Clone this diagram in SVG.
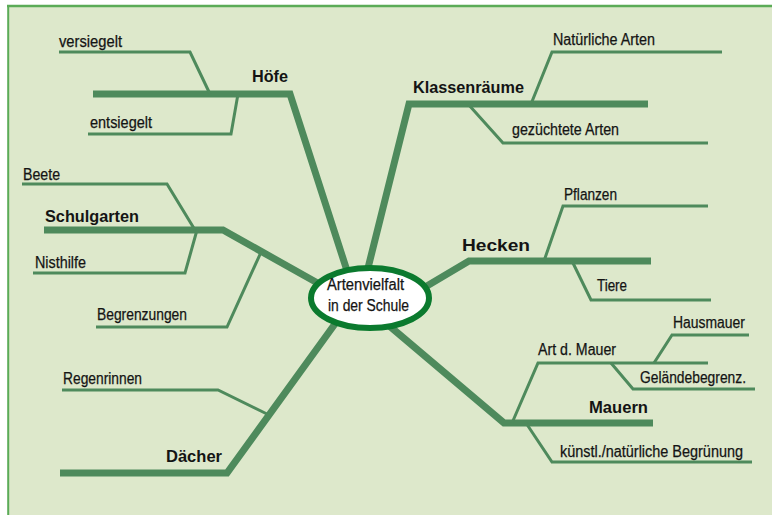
<svg xmlns="http://www.w3.org/2000/svg" width="772" height="515" viewBox="0 0 772 515">
<style>
.t{font-family:"Liberation Sans",Arial,sans-serif;font-size:16px;fill:#141414;stroke:#141414;stroke-width:0.25}
.b{font-family:"Liberation Sans",Arial,sans-serif;font-size:16px;font-weight:bold;fill:#141414}
.main{fill:none;stroke:#4e8a5c;stroke-width:7;stroke-linejoin:miter;stroke-linecap:butt}
.sub{fill:none;stroke:#4e8a5c;stroke-width:3;stroke-linejoin:miter;stroke-linecap:butt}
</style>
<rect x="0" y="0" width="772" height="515" fill="#ffffff"/>
<rect x="8" y="6" width="764" height="509" fill="#dde8cb"/>
<line x1="7" y1="6" x2="772" y2="6" stroke="#5bab57" stroke-width="2.5"/>
<line x1="8.2" y1="5" x2="8.2" y2="515" stroke="#5bab57" stroke-width="2"/>
<g id="connectors">
<polyline class="main" points="93,94 290,94 350,280"/>
<polyline class="main" points="648,104 409,104 365,280"/>
<polyline class="main" points="44,230 223,230 330,290"/>
<polyline class="main" points="651,261 469,261 410,296"/>
<polyline class="main" points="653,423 504,423 380,318"/>
<polyline class="main" points="60,473 227,473 345,310"/>
<polyline class="sub" points="59,52 190,52 210,94"/>
<polyline class="sub" points="88,134 231,134 238,94"/>
<polyline class="sub" points="22,184 167,184 195,230"/>
<polyline class="sub" points="33,273 185,273 197,230"/>
<polyline class="sub" points="96,327 227,327 262,250"/>
<polyline class="sub" points="62,390 218,390 267,414"/>
<polyline class="sub" points="722,52 552,52 531,104"/>
<polyline class="sub" points="468,104 503,143 708,143"/>
<polyline class="sub" points="708,206 563,206 544,261"/>
<polyline class="sub" points="572,261 591,300 711,300"/>
<polyline class="sub" points="708,363 538,363 512,423"/>
<polyline class="sub" points="749,335 672,335 654,363"/>
<polyline class="sub" points="611,363 633,389 755,389"/>
<polyline class="sub" points="526,423 552,462 752,462"/>
</g>
<g id="center">
<ellipse cx="370" cy="298" rx="59" ry="30" fill="#ffffff" stroke="#0b7a2e" stroke-width="6"/>
<text class="t" x="327" y="290" textLength="77" lengthAdjust="spacingAndGlyphs">Artenvielfalt</text>
<text class="t" x="328" y="311" textLength="81" lengthAdjust="spacingAndGlyphs">in der Schule</text>
</g>
<g id="hoefe">
<text class="b" x="252" y="82" textLength="36" lengthAdjust="spacingAndGlyphs">Höfe</text>
</g>
<g id="versiegelt"><text class="t" x="59" y="47" textLength="63" lengthAdjust="spacingAndGlyphs">versiegelt</text></g>
<g id="entsiegelt"><text class="t" x="90" y="128" textLength="62" lengthAdjust="spacingAndGlyphs">entsiegelt</text></g>
<g id="schulgarten"><text class="b" x="45" y="222" textLength="94" lengthAdjust="spacingAndGlyphs">Schulgarten</text></g>
<g id="beete"><text class="t" x="23" y="180" textLength="37" lengthAdjust="spacingAndGlyphs">Beete</text></g>
<g id="nisthilfe"><text class="t" x="35" y="268" textLength="51" lengthAdjust="spacingAndGlyphs">Nisthilfe</text></g>
<g id="begrenzungen"><text class="t" x="97" y="320" textLength="90" lengthAdjust="spacingAndGlyphs">Begrenzungen</text></g>
<g id="daecher"><text class="b" x="166" y="462" textLength="56" lengthAdjust="spacingAndGlyphs">Dächer</text></g>
<g id="regenrinnen"><text class="t" x="63" y="384" textLength="79" lengthAdjust="spacingAndGlyphs">Regenrinnen</text></g>
<g id="klassenraeume"><text class="b" x="413" y="93" textLength="111" lengthAdjust="spacingAndGlyphs">Klassenräume</text></g>
<g id="natuerliche"><text class="t" x="553" y="45" textLength="102" lengthAdjust="spacingAndGlyphs">Natürliche Arten</text></g>
<g id="gezuechtete"><text class="t" x="512" y="135" textLength="107" lengthAdjust="spacingAndGlyphs">gezüchtete Arten</text></g>
<g id="hecken"><text class="b" x="462" y="251" textLength="68" lengthAdjust="spacingAndGlyphs">Hecken</text></g>
<g id="pflanzen"><text class="t" x="564" y="200" textLength="53" lengthAdjust="spacingAndGlyphs">Pflanzen</text></g>
<g id="tiere"><text class="t" x="597" y="291" textLength="30" lengthAdjust="spacingAndGlyphs">Tiere</text></g>
<g id="mauern"><text class="b" x="589" y="413" textLength="59" lengthAdjust="spacingAndGlyphs">Mauern</text></g>
<g id="artmauer"><text class="t" x="538" y="355" textLength="78" lengthAdjust="spacingAndGlyphs">Art d. Mauer</text></g>
<g id="hausmauer"><text class="t" x="673" y="328" textLength="72" lengthAdjust="spacingAndGlyphs">Hausmauer</text></g>
<g id="gelaende"><text class="t" x="640" y="383" textLength="106" lengthAdjust="spacingAndGlyphs">Geländebegrenz.</text></g>
<g id="begruenung"><text class="t" x="560" y="457" textLength="183" lengthAdjust="spacingAndGlyphs">künstl./natürliche Begrünung</text></g>
</svg>
